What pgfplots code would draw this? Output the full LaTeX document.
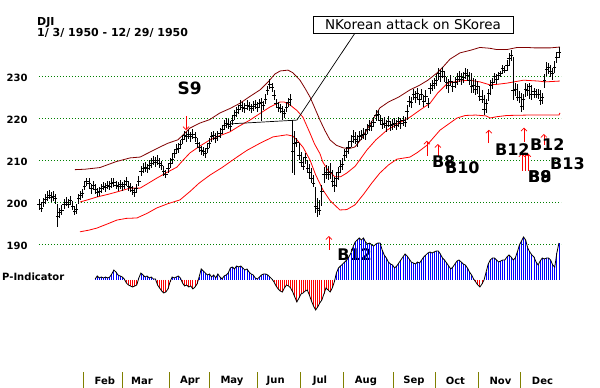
\documentclass[border=0pt]{standalone}
\usepackage{fontspec}
\setmainfont{DejaVu Sans}
\usepackage{pgfplots}
\usepackage{pgfplotstable}
\pgfplotsset{compat=1.18}
\usetikzlibrary{arrows.meta}
\definecolor{maroonband}{RGB}{128,0,0}
\definecolor{gridgreen}{RGB}{0,128,0}
\definecolor{olivetick}{RGB}{128,128,0}

\pgfplotstableread{
d h l c
0 200.8 198.2 199.5
1 200.0 197.6 198.5
2 201.0 198.8 199.8
3 201.8 199.5 200.5
4 202.5 200.2 201.2
5 202.8 200.6 201.5
6 202.4 200.0 201.0
7 202.6 200.3 201.3
8 202.0 199.6 200.8
9 199.5 194.0 196.5
10 198.6 196.2 197.5
11 199.2 196.8 198.0
12 200.6 198.3 199.5
13 201.2 199.0 200.0
14 200.8 198.5 199.5
15 201.4 199.2 200.3
16 200.3 198.0 199.0
17 199.0 196.8 197.8
18 199.5 197.2 198.3
19 201.8 199.5 200.8
20 202.6 200.5 201.5
21 203.2 201.0 202.0
22 205.0 202.8 203.8
23 205.8 203.8 204.8
24 205.6 203.4 204.5
25 204.4 202.0 203.2
26 205.0 203.0 204.0
27 204.2 201.8 203.0
28 203.4 201.2 202.2
29 203.6 201.4 202.5
30 204.4 202.2 203.3
31 204.8 202.8 203.8
32 204.6 202.4 203.5
33 205.0 203.0 204.0
34 204.9 202.8 203.8
35 205.6 203.4 204.5
36 205.8 203.6 204.6
37 205.1 203.0 204.0
38 204.8 202.6 203.7
39 205.3 203.2 204.2
40 204.7 202.5 203.6
41 205.3 203.2 204.2
42 205.9 203.8 204.8
43 204.9 202.7 203.8
44 204.5 202.3 203.4
45 203.9 201.7 202.8
46 203.3 201.1 202.2
47 204.4 202.1 203.2
48 206.3 203.9 205.0
49 208.5 206.1 207.3
50 209.2 207.0 208.0
51 209.5 207.2 208.3
52 209.1 206.9 208.0
53 210.0 207.7 208.8
54 210.4 208.2 209.3
55 210.9 208.7 209.8
56 210.6 208.4 209.5
57 211.2 208.9 210.0
58 210.4 208.2 209.3
59 209.7 207.5 208.6
60 208.5 206.2 207.3
61 207.6 205.6 206.5
62 209.1 206.9 208.0
63 210.5 208.2 209.3
64 211.4 209.1 210.2
65 212.7 210.4 211.5
66 213.7 211.4 212.5
67 214.0 211.7 212.8
68 214.8 212.5 213.6
69 216.0 213.7 214.8
70 217.0 214.7 215.8
71 216.7 214.4 215.5
72 217.2 214.9 216.0
73 216.7 214.4 215.5
74 217.3 215.1 216.2
75 216.6 214.3 215.4
76 215.2 212.9 214.0
77 214.2 211.9 213.0
78 213.4 211.1 212.2
79 213.2 210.9 212.0
80 212.8 210.5 211.6
81 214.0 211.7 212.8
82 215.2 212.9 214.0
83 216.7 214.4 215.5
84 217.0 214.7 215.8
85 216.4 214.1 215.2
86 216.8 214.5 215.6
87 217.6 215.3 216.4
88 218.4 216.1 217.2
89 219.5 217.2 218.3
90 220.0 217.7 218.8
91 219.7 217.4 218.5
92 219.2 216.9 218.0
93 220.6 218.3 219.4
94 221.8 219.5 220.6
95 222.5 220.2 221.3
96 223.2 220.9 222.0
97 224.3 222.0 223.1
98 223.8 221.5 222.6
99 223.6 221.3 222.4
100 224.2 221.9 223.0
101 223.9 221.6 222.7
102 223.4 221.1 222.2
103 224.0 221.7 222.8
104 224.4 222.1 223.2
105 223.8 221.5 222.6
106 224.6 222.3 223.4
107 224.8 219.2 223.6
108 224.1 221.8 222.9
109 225.7 223.4 224.5
110 227.7 225.4 226.5
111 229.2 226.8 228.0
112 228.4 226.1 227.2
113 226.6 224.2 225.4
114 224.6 222.3 223.4
115 223.7 221.4 222.5
116 223.4 221.1 222.2
117 222.8 219.5 221.6
118 222.2 219.9 221.0
119 223.7 221.4 222.5
120 224.8 222.5 223.6
121 225.8 222.8 224.5
122 219.5 207.0 212.0
123 217.0 206.5 214.0
124 215.2 213.0 214.2
125 214.0 210.0 211.0
126 212.0 208.5 209.5
127 210.7 207.6 208.5
128 211.7 209.0 210.5
129 210.0 207.0 208.0
130 209.0 205.5 207.0
131 208.0 204.5 205.5
132 206.5 203.5 204.5
133 203.6 197.4 199.0
134 201.0 196.5 198.5
135 200.5 196.9 198.0
136 204.0 199.0 202.5
137 208.3 204.5 206.5
138 208.8 205.5 207.0
139 208.5 205.2 206.5
140 209.3 205.5 207.0
141 207.6 203.5 205.0
142 206.0 202.4 204.0
143 207.2 203.5 205.5
144 208.3 205.2 207.0
145 210.0 207.0 208.5
146 210.5 207.6 209.0
147 212.5 209.8 211.0
148 213.1 210.5 212.0
149 214.5 211.5 213.0
150 216.0 213.0 214.5
151 217.1 214.0 215.5
152 216.6 213.8 215.0
153 216.0 213.1 214.5
154 217.0 214.6 215.5
155 217.1 214.8 215.8
156 217.5 215.0 216.2
157 217.4 214.8 216.0
158 218.5 216.2 217.2
159 219.5 217.0 218.2
160 219.3 216.8 218.0
161 220.3 217.8 219.0
162 222.0 219.3 220.5
163 222.0 219.5 220.8
164 220.8 218.3 219.5
165 220.0 217.3 218.5
166 220.2 217.5 218.8
167 219.5 216.7 218.2
168 220.4 217.8 219.3
169 219.4 216.9 218.2
170 219.8 217.2 218.5
171 220.0 217.6 218.8
172 219.6 217.1 218.3
173 220.3 217.9 219.2
174 219.9 217.3 218.6
175 220.5 218.1 219.4
176 220.3 217.8 219.0
177 223.0 219.5 221.5
178 225.3 222.5 224.0
179 225.0 222.4 223.6
180 227.0 224.2 225.6
181 226.4 223.6 225.0
182 227.2 224.4 225.8
183 225.8 223.0 224.4
184 227.0 224.2 225.6
185 225.4 222.6 224.0
186 226.6 223.8 225.2
187 224.8 222.4 223.4
188 228.3 225.6 227.0
189 229.1 226.4 227.8
190 229.6 226.8 228.2
191 230.4 227.6 229.0
192 231.9 229.1 230.5
193 231.4 228.6 230.0
194 232.2 229.6 231.0
195 231.2 228.5 229.8
196 229.8 227.0 228.4
197 229.2 226.0 227.8
198 230.2 227.5 228.8
199 228.9 226.1 227.5
200 229.8 227.1 228.4
201 230.6 227.9 229.2
202 231.2 228.6 229.8
203 230.6 227.9 229.2
204 231.0 228.3 229.6
205 232.0 229.3 230.6
206 231.6 228.9 230.2
207 231.0 227.8 229.0
208 230.7 226.0 227.5
209 229.5 226.0 227.8
210 229.2 225.5 226.8
211 228.8 225.6 227.5
212 227.4 224.0 225.2
213 226.6 223.6 224.5
214 225.5 220.7 222.0
215 224.6 221.2 223.5
216 227.0 224.0 225.8
217 229.0 225.5 227.8
218 229.6 227.0 228.5
219 230.7 228.3 229.8
220 230.5 228.2 229.3
221 231.0 229.0 230.2
222 231.2 229.8 230.5
223 232.6 230.5 231.8
224 232.4 230.6 231.3
225 233.8 231.2 232.6
226 235.5 232.4 234.2
227 236.2 233.5 234.8
228 234.5 224.3 226.5
229 228.3 225.2 226.8
230 228.0 224.0 225.0
231 226.5 223.6 224.8
232 226.0 221.4 222.8
233 225.6 222.0 224.5
234 228.3 225.0 226.8
235 228.0 225.2 226.5
236 228.3 224.6 227.5
237 227.8 224.3 225.6
238 227.1 224.8 226.3
239 227.0 224.8 225.6
240 226.8 224.6 225.5
241 226.7 223.1 224.2
242 226.0 223.3 225.0
243 230.5 227.2 229.0
244 233.3 230.0 231.5
245 233.0 230.4 232.0
246 232.6 229.8 231.0
247 232.0 229.0 230.5
248 233.5 230.8 232.0
249 235.8 233.2 234.5
250 236.9 234.4 235.5
}\price

\pgfplotstableread{
d p
27 1
28 4
29 2
30 3
31 2
32 3
33 2
34 3
35 6
36 10
37 8
38 5
39 4
40 3
41 1
42 -3
43 -5
44 -6
45 -7
46 -6
47 -5
48 2
49 7
50 5
51 3
52 4
53 2
54 3
55 1
56 1
57 -5
58 -8
59 -11
60 -13
61 -12
62 -9
63 -2
64 3
65 2
66 3
67 4
68 2
69 -3
70 -6
71 -5
72 -7
73 -6
74 -9
75 -7
76 -4
77 3
78 11
79 9
80 7
81 5
82 6
83 3
84 5
85 2
86 6
87 3
88 1
89 4
90 5
91 7
92 12
93 13
94 11
95 14
96 13
97 14
98 12
99 10
100 11
101 8
102 6
103 5
104 2
105 1
106 3
107 5
108 6
109 6
110 5
111 3
112 1
113 -2
114 -6
115 -9
116 -11
117 -12
118 -8
119 -5
120 -6
121 -8
122 -12
123 -17
124 -22
125 -18
126 -14
127 -13
128 -11
129 -10
130 -15
131 -21
132 -26
133 -30
134 -27
135 -23
136 -20
137 -14
138 -8
139 -10
140 -12
141 -8
142 -2
143 7
144 12
145 14
146 16
147 18
148 20
149 23
150 27
151 33
152 38
153 40
154 42
155 40
156 42
157 38
158 36
159 37
160 35
161 34
162 36
163 37
164 37
165 30
166 25
167 22
168 18
169 16
170 15
171 12
172 14
173 17
174 20
175 23
176 26
177 24
178 21
179 18
180 17
181 16
182 18
183 17
184 20
185 23
186 25
187 27
188 28
189 27
190 28
191 29
192 29
193 26
194 22
195 20
196 17
197 14
198 11
199 13
200 16
201 19
202 20
203 18
204 16
205 15
206 12
207 8
208 5
209 1
210 -2
211 -5
212 -7
213 -4
214 0
215 8
216 16
217 20
218 22
219 22
220 20
221 18
222 19
223 20
224 20
225 23
226 25
227 23
228 20
229 22
230 28
231 35
232 39
233 43
234 40
235 32
236 28
237 25
238 23
239 18
240 15
241 19
242 22
243 21
244 22
245 22
246 20
247 15
248 13
249 27
250 37
}\pind

\tikzset{sig/.style={red, line width=0.7pt, -{Straight Barb[length=3pt,width=6pt]}},
  blab/.style={anchor=west, inner sep=0pt, font=\fontsize{16}{19}\selectfont\bfseries},
  mlab/.style={font=\fontsize{10}{12}\selectfont\bfseries}}

\begin{document}
\begin{tikzpicture}[x=1pt,y=1pt]
\path[use as bounding box] (0,0) rectangle (600,388);

\node[anchor=north west, inner sep=0pt, font=\fontsize{11}{13}\selectfont\bfseries] at (37,371) {DJI};
\node[anchor=north west, inner sep=0pt, font=\fontsize{11}{13}\selectfont\bfseries] at (37,359.5) {1/ 3/ 1950 - 12/ 29/ 1950};
\node[anchor=west, inner sep=0pt, font=\fontsize{10}{12}\selectfont\bfseries] at (2,111) {P-Indicator};

% ---------------- price panel ----------------
\begin{axis}[
  at={(39pt,127.2pt)}, anchor=south west,
  scale only axis, width=522pt, height=226.8pt,
  xmin=0, xmax=251, ymin=186, ymax=240,
  clip=false,
  axis line style={draw=none},
  xtick=\empty,
  ytick={190,200,210,220,230},
  yticklabels={190,200,210,220,230},
  yticklabel style={font=\fontsize{10}{12}\selectfont\bfseries, xshift=-8pt, yshift=-2pt},
  major tick length=0pt,
  ymajorgrids,
  grid style={gridgreen, line width=0.7pt, dash pattern=on 0.8pt off 2.2pt},
]
% upper band
\addplot[maroonband, line width=0.8pt] coordinates {
(17.3,207.7) (22,207.8) (29.3,208.2) (37,209.6) (43.8,210.5) (48.6,210.7) (53,211.8)
(58.2,213.1) (62,214) (66.8,214.8) (72.6,217.6) (77.4,218.8) (82,219.6) (87,221.2)
(92,222.3) (96.6,223.5) (101,225) (106.3,226.7) (110,228.5) (113.5,230.5) (116,231.2)
(119.7,231.4) (122,230.8) (125.5,229) (128,227) (130.3,225) (132.5,222.5) (135.1,219.5)
(137.5,217) (139.9,214.8) (143,213.5) (146.2,212.9) (149,212.7) (151.9,213.1) (155,215)
(158,217.5) (161,220) (163.9,222.4) (168,223.8) (173,225) (178.4,226.7) (183,227.8)
(187,229) (191.3,230.7) (194,232) (197.6,234) (202.4,235.5) (208,236.2) (212,236.8)
(216.8,236.6) (220,236.3) (225,236.3) (230,236.8) (234.6,236.8) (238,236.7) (240.9,236.7)
(246,236.7) (250.5,236.9)
};
% middle band
\addplot[red, line width=0.8pt] coordinates {
(19.7,200) (24,200.6) (27.9,201.2) (33,201.8) (37.5,202.4) (43.8,203.3) (48.6,203.3)
(52,204.3) (56.7,205.7) (61,206.9) (66.3,208.3) (69,209.8) (72.6,211.7) (77,213.2)
(82.2,214.8) (87,215.8) (91.8,216.7) (96,218) (101.4,219.5) (106,221) (111,222.6)
(115.9,223.8) (118,223.8) (120.7,223.1) (124,221.8) (126.9,220.2) (130.3,216.4)
(132.5,213.8) (135.1,211.5) (136.5,209.5) (139,207.5) (142.3,206) (145,206) (148,206.9)
(152,208.5) (157.7,212.4) (162,214.8) (167.3,217.1) (173,218.8) (178.4,220.2)
(183.2,221.9) (188,223.5) (191.8,226) (196.5,228.3) (202,228.8) (207.2,229) (212,228.6)
(216.8,227.9) (220,228) (225,228.3) (233,229) (240,228.8) (243.5,228.6) (250.5,228.8)
};
% lower band
\addplot[red, line width=0.8pt] coordinates {
(19.7,192.9) (24,193.3) (27.9,193.8) (33,194.8) (37.5,195.7) (42,196.1) (47.1,196.2)
(52,197.3) (56.7,198.6) (62,199.6) (67.8,200.5) (72.6,202.5) (77,204.5) (82.2,206.4)
(88,208.2) (95.2,210.7) (100,212.3) (106.3,214) (112.5,215.5) (119.2,216) (122,215.7)
(124,214.8) (127,213) (130.3,210) (133,206.5) (136.5,202.9) (140,200.3) (144.7,198.1)
(148,198.2) (151.9,199.3) (156,201.8) (160,204.5) (163.9,206.9) (168,208.8) (172.1,210.2)
(178.4,210.7) (182,211.8) (186.5,213.5) (190,215.5) (192.8,217.1) (197.6,218.8)
(201,220) (205,220.6) (210,220.7) (215,220.5) (217,220) (220,220.3) (225,220.6)
(235,220.7) (245,220.7) (250,220.7) (250.5,221.2)
};
% daily bars
\addplot[black, only marks, mark=-, mark size=1.7pt, mark options={line width=0.8pt},
  error bars/.cd, y dir=both, y explicit, error mark=none,
  error bar style={line width=0.8pt, black}]
  table[x=d, y=c, y error plus expr=\thisrow{h}-\thisrow{c}, y error minus expr=\thisrow{c}-\thisrow{l}] {\price};

% trend line and annotation
\draw[black, line width=0.7pt] (axis cs:91.8,218.6) -- (axis cs:124,219.5);
\draw[black, line width=0.7pt] (axis cs:124,219.5) -- (axis cs:151.9,240.2);
\node[draw=black, fill=white, line width=0.8pt, minimum width=200pt, minimum height=17pt, inner sep=0pt,
  font=\fontsize{13.5}{15}\selectfont] at (axis cs:179.8,242.26) {NKorean attack on SKorea};

% signals
\node[font=\fontsize{17}{20}\selectfont\bfseries] at (axis cs:72.4,227.0) {S9};
\draw[sig] (axis cs:70.7,220.4) -- (axis cs:70.7,217.1);

\draw[sig] (axis cs:139.4,188.6) -- (axis cs:139.4,191.9);
\node[font=\fontsize{16}{19}\selectfont\bfseries] at (axis cs:151.7,187.4) {B12};

\draw[sig] (axis cs:186.5,211) -- (axis cs:186.5,214.6);
\draw[sig] (axis cs:191.8,211) -- (axis cs:191.8,213.8);
\draw[sig] (axis cs:216.3,214) -- (axis cs:216.3,217.2);
\draw[sig] (axis cs:233.2,214.3) -- (axis cs:233.2,217.7);
\draw[sig] (axis cs:242.8,213.6) -- (axis cs:242.8,216.2);
\draw[sig] (axis cs:232.2,207.4) -- (axis cs:232.2,211.6);
\draw[sig] (axis cs:233.7,207.4) -- (axis cs:233.7,211.8);
\draw[sig] (axis cs:235.1,207.4) -- (axis cs:235.1,211.6);

\node[blab] at (axis cs:188.9,209.5) {B8};
\node[blab] at (axis cs:195.2,208.2) {B10};
\node[blab] at (axis cs:219.2,212.5) {B12};
\node[blab] at (axis cs:236.0,213.6) {B12};
\node[blab] at (axis cs:245.7,209.2) {B13};
\node[blab] at (axis cs:235.1,206.1) {B8};
\node[blab] at (axis cs:235.1,206.1) {B9};
\end{axis}

% ---------------- P-Indicator panel ----------------
\begin{axis}[
  at={(39pt,68pt)}, anchor=south west,
  scale only axis, width=522pt, height=90pt,
  xmin=0, xmax=251, ymin=-40, ymax=50,
  hide axis, clip=false,
]
\addplot[ycomb, blue, line width=0.8pt, restrict y to domain=0:100] table[x=d, y=p] {\pind};
\addplot[ycomb, red, line width=0.8pt, restrict y to domain=-100:0] table[x=d, y=p] {\pind};
\addplot[black, line width=0.8pt] table[x=d, y=p] {\pind};
\end{axis}

% ---------------- month strip ----------------
\begin{axis}[
  at={(39pt,0pt)}, anchor=south west,
  scale only axis, width=522pt, height=16pt,
  xmin=0, xmax=251, ymin=0, ymax=1,
  axis line style={draw=none},
  ytick=\empty,
  xtick={21.2,39.9,62.5,81.7,104.8,125.5,146.6,170.2,190.4,211.5,231.7},
  xticklabels={},
  xtick pos=left, tick align=inside, major tick length=16pt,
  tick style={olivetick, line width=0.8pt},
  clip=false,
]
\node[mlab] at (axis cs:31.7,0.44) {Feb};
\node[mlab] at (axis cs:49.5,0.44) {Mar};
\node[mlab] at (axis cs:72.6,0.44) {Apr};
\node[mlab] at (axis cs:92.8,0.44) {May};
\node[mlab] at (axis cs:113.8,0.44) {Jun};
\node[mlab] at (axis cs:135.1,0.44) {Jul};
\node[mlab] at (axis cs:157.2,0.44) {Aug};
\node[mlab] at (axis cs:180.3,0.44) {Sep};
\node[mlab] at (axis cs:200.2,0.44) {Oct};
\node[mlab] at (axis cs:221.9,0.44) {Nov};
\node[mlab] at (axis cs:242.1,0.44) {Dec};
\end{axis}
\end{tikzpicture}
\end{document}
